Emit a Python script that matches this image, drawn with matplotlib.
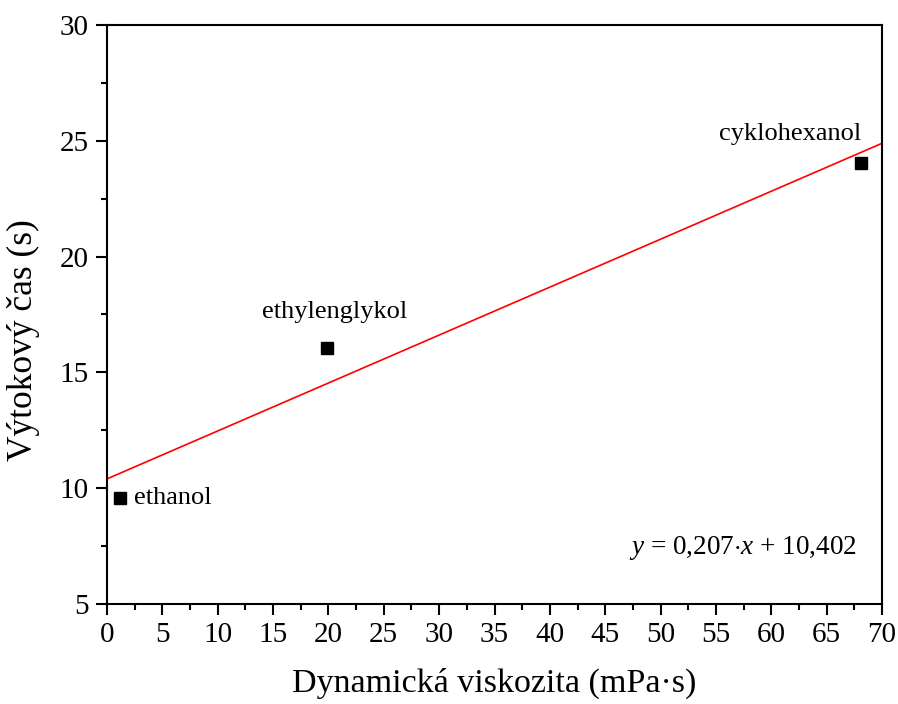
import matplotlib
matplotlib.use("Agg")
import matplotlib.pyplot as plt
import numpy as np
from matplotlib.ticker import MultipleLocator

# viscosity (mPa·s) vs. outflow time (s)
names = ["ethanol", "ethylenglykol", "cyklohexanol"]
viscosity = [1.17, 19.9, 68.1]
outflow_time = [9.58, 16.05, 24.05]
slope = 0.207
intercept = 10.402

plt.rcParams["font.family"] = ["Liberation Serif", "DejaVu Serif"]
plt.rcParams["mathtext.fontset"] = "custom"
plt.rcParams["mathtext.it"] = "Liberation Serif:italic"
plt.rcParams["mathtext.rm"] = "Liberation Serif"

fig = plt.figure(figsize=(8.98, 7.04), dpi=100)
ax = fig.add_axes([107 / 898, 100 / 704, 775 / 898, 579 / 704])

xfit = np.array([0, 70])
ax.plot(xfit, slope * xfit + intercept, color="red", lw=1.2, zorder=2)
ax.plot(viscosity, outflow_time, "s", color="black", ms=8.5, zorder=3)

ax.annotate(names[0], (viscosity[0], outflow_time[0]), xytext=(10, 0),
            textcoords="offset points", ha="left", va="center", fontsize=19)
ax.annotate(names[1], (viscosity[1], outflow_time[1]), xytext=(5, 26),
            textcoords="offset points", ha="center", va="center", fontsize=19)
ax.annotate(names[2], (viscosity[2], outflow_time[2]), xytext=(-51, 21),
            textcoords="offset points", ha="center", va="center", fontsize=19)

ax.text(0.968, 0.097, r"$y$ = 0,207$\cdot$$x$ + 10,402", transform=ax.transAxes,
        ha="right", va="center", fontsize=19.5)

ax.set_xlim(0, 70)
ax.set_ylim(5, 30)
ax.xaxis.set_major_locator(MultipleLocator(5))
ax.xaxis.set_minor_locator(MultipleLocator(2.5))
ax.yaxis.set_major_locator(MultipleLocator(5))
ax.yaxis.set_minor_locator(MultipleLocator(2.5))
ax.tick_params(which="major", direction="out", length=8, width=1.5, labelsize=21, pad=5)
ax.tick_params(which="minor", direction="out", length=4, width=1.5)
for s in ax.spines.values():
    s.set_linewidth(1.5)

ax.set_xlabel("Dynamická viskozita (mPa·s)", fontsize=24.5, labelpad=14)
ax.set_ylabel("Výtokový čas (s)", fontsize=25.5)
ax.yaxis.set_label_coords(-0.087, 0.456)

fig.savefig("out.png", dpi=100)
